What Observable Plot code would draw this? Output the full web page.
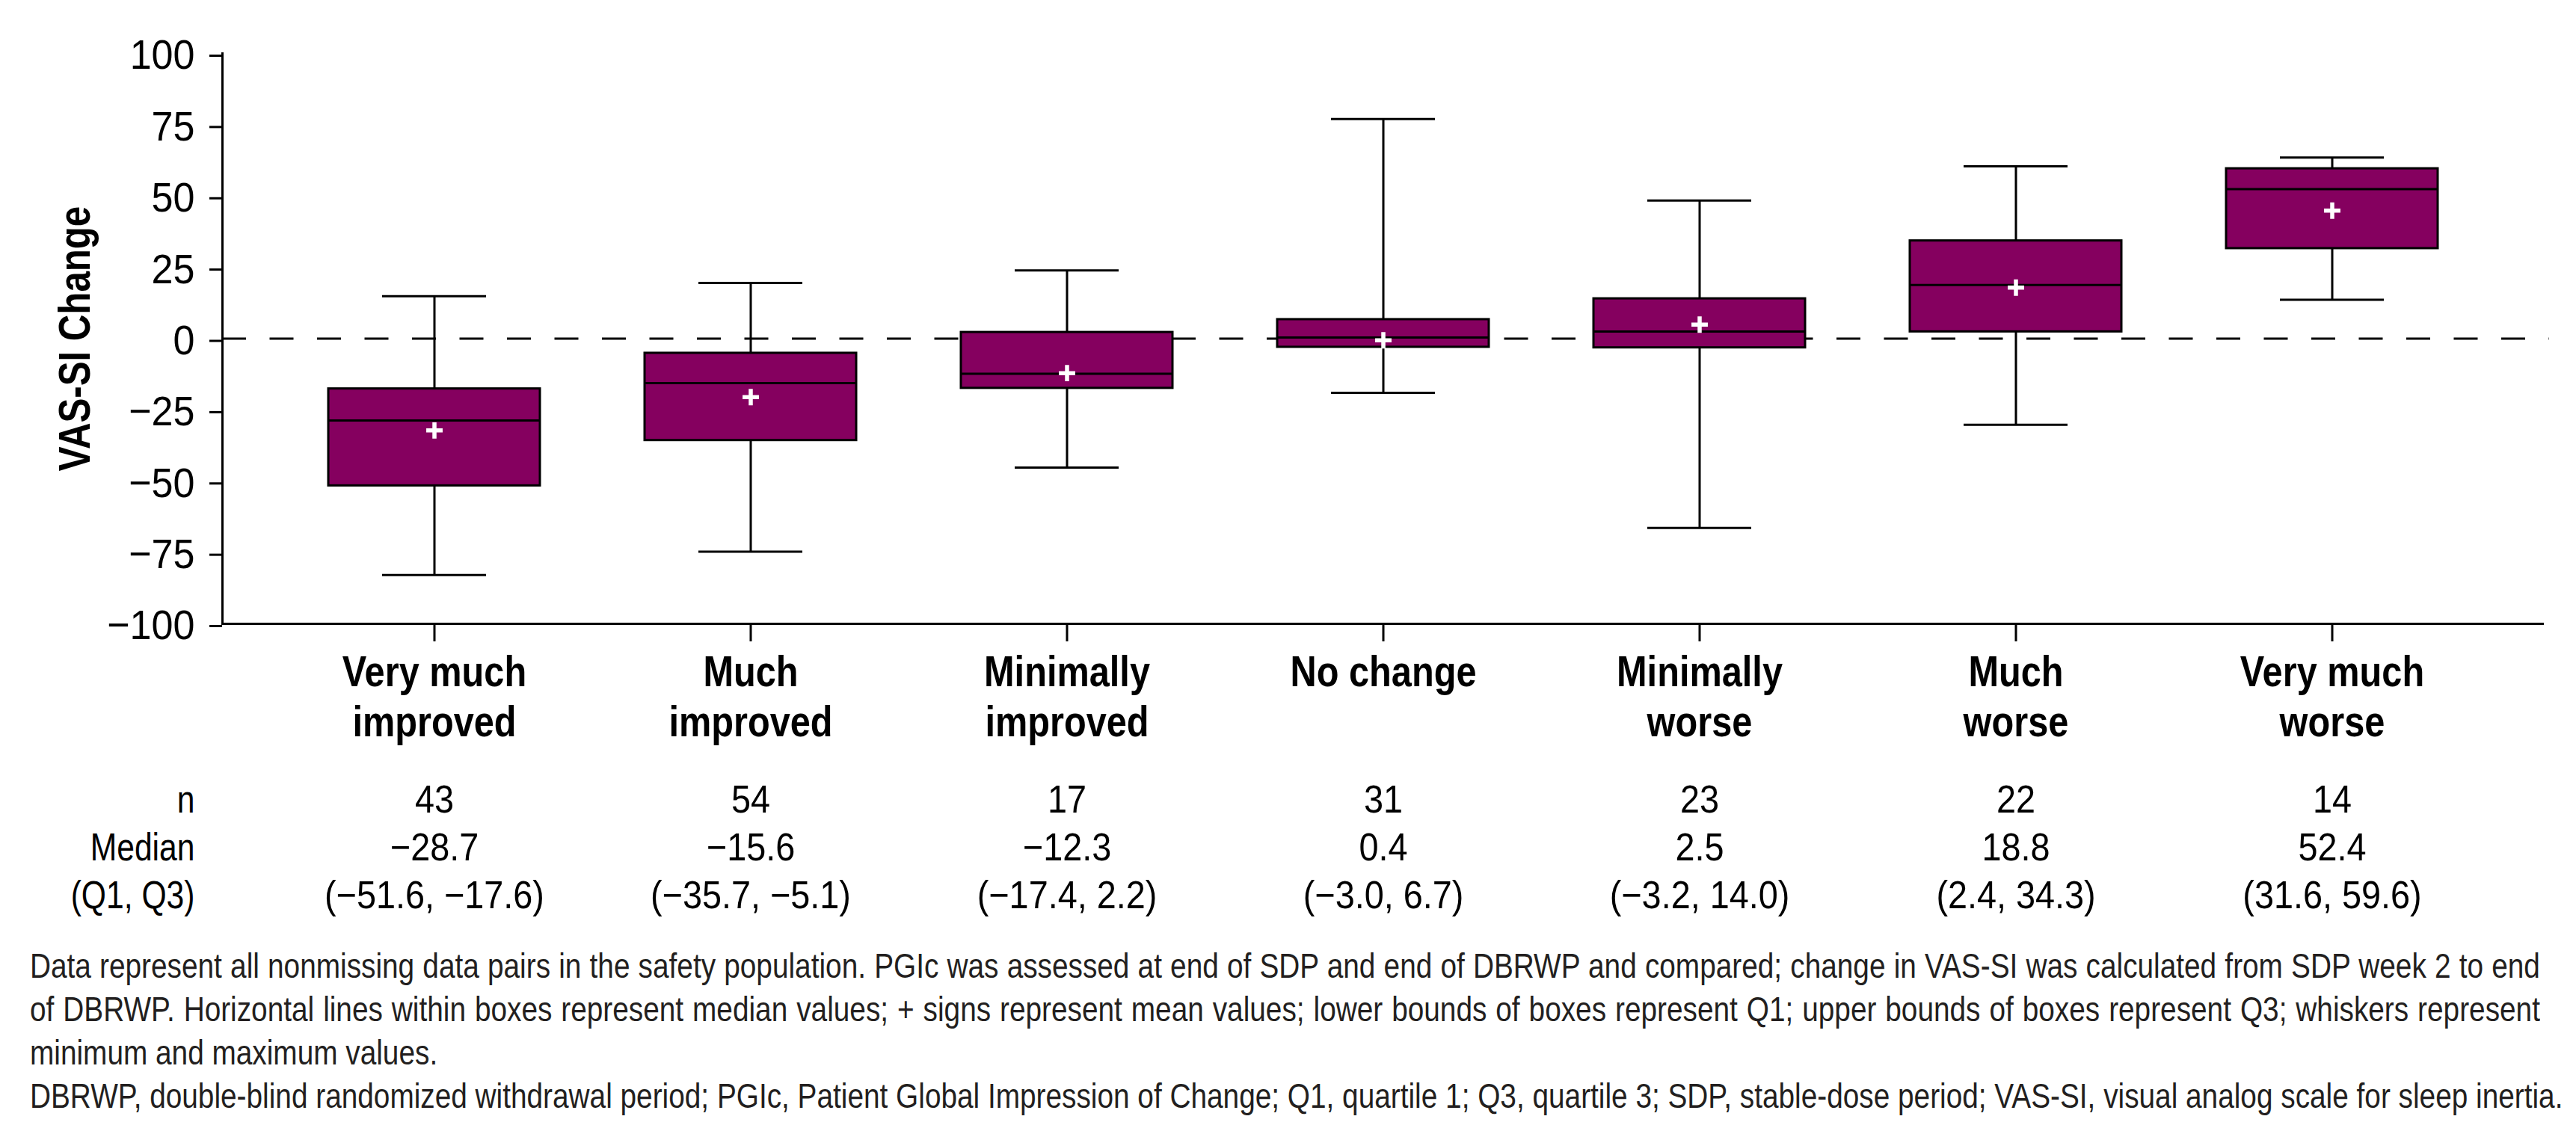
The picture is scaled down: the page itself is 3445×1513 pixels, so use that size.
<!DOCTYPE html>
<html><head><meta charset="utf-8">
<script src="https://cdn.jsdelivr.net/npm/d3@7"></script>
<script src="https://cdn.jsdelivr.net/npm/@observablehq/plot@0.6"></script>
<style>
html,body{margin:0;padding:0;background:#fff;overflow:hidden;}
#chart svg{display:block}
.fn{font-family:"Liberation Sans Narrow","Arial Narrow","Liberation Sans",Arial,sans-serif;font-size:47px;line-height:58px;color:#231f20;margin:13px 0 0 40px;}
.fn div{white-space:nowrap;transform:scaleX(0.825);transform-origin:0 0;width:4069px;}
.fn div.j{text-align:justify;text-align-last:justify;}
</style></head><body>
<div id="chart"></div>
<div class="fn">
<div class="j">Data represent all nonmissing data pairs in the safety population. PGIc was assessed at end of SDP and end of DBRWP and compared; change in VAS-SI was calculated from SDP week 2 to end</div>
<div class="j">of DBRWP. Horizontal lines within boxes represent median values; + signs represent mean values; lower bounds of boxes represent Q1; upper bounds of boxes represent Q3; whiskers represent</div>
<div>minimum and maximum values.</div>
<div>DBRWP, double-blind randomized withdrawal period; PGIc, Patient Global Impression of Change; Q1, quartile 1; Q3, quartile 3; SDP, stable-dose period; VAS-SI, visual analog scale for sleep inertia.</div>
</div>
<script>
const categories = ["Very much improved", "Much improved", "Minimally improved", "No change", "Minimally worse", "Much worse", "Very much worse"];
const categoryLabels = ["Very much\nimproved", "Much\nimproved", "Minimally\nimproved", "No change", "Minimally\nworse", "Much\nworse", "Very much\nworse"];
const nValues = [43, 54, 17, 31, 23, 22, 14];
const medians = [-28.7, -15.6, -12.3, 0.4, 2.5, 18.8, 52.4];
const q1Values = [-51.6, -35.7, -17.4, -3.0, -3.2, 2.4, 31.6];
const q3Values = [-17.6, -5.1, 2.2, 6.7, 14.0, 34.3, 59.6];
const minValues = [-82.9, -74.7, -45.2, -19.0, -66.4, -30.2, 13.6];
const maxValues = [14.9, 19.5, 23.9, 77.0, 48.4, 60.4, 63.5];
const meanValues = [-32.2, -20.5, -12.1, -0.6, 4.9, 17.9, 44.9];
const yTicks = [-100, -75, -50, -25, 0, 25, 50, 75, 100];
const rowLabels = ["n", "Median", "(Q1, Q3)"];
const yLabel = "VAS-SI Change";

const FONT = '"Liberation Sans Narrow", "Arial Narrow", "Liberation Sans", Arial, sans-serif';
const BOX = "#85005f";
const minus = "\u2212";
const fmt1 = v => (v < 0 ? minus : "") + Math.abs(v).toFixed(1);

const data = categories.map((c, i) => ({
  cat: c, label: categoryLabels[i], n: nValues[i], median: medians[i],
  q1: q1Values[i], q3: q3Values[i], min: minValues[i], max: maxValues[i], mean: meanValues[i]
}));

const chart = Plot.plot({
  width: 3445, height: 1250,
  marginTop: 71, marginBottom: 416, marginLeft: 297, marginRight: 43,
  style: {fontFamily: FONT, background: "white", color: "black", overflow: "visible"},
  x: {type: "band", domain: categories, padding: 0.332, label: null},
  y: {domain: [-100, 100], label: null},
  marks: [
    Plot.ruleY([0], {strokeDasharray: "32,31.5", strokeWidth: 3, insetRight: -7}),
    Plot.ruleX(data, {x: "cat", y1: "min", y2: "max", strokeWidth: 3}),
    Plot.tickY(data, {x: "cat", y: "min", insetLeft: 72, insetRight: 72, strokeWidth: 3}),
    Plot.tickY(data, {x: "cat", y: "max", insetLeft: 72, insetRight: 72, strokeWidth: 3}),
    Plot.barY(data, {x: "cat", y1: "q1", y2: "q3", fill: BOX, stroke: "black", strokeWidth: 3}),
    Plot.tickY(data, {x: "cat", y: "median", strokeWidth: 3}),
    Plot.dot(data, {x: "cat", y: "mean", symbol: "plus", r: 7.1, stroke: "white", strokeWidth: 5.5}),
    Plot.frame({anchor: "left", strokeWidth: 3}),
    Plot.ruleY([-100], {strokeWidth: 3}),
    Plot.axisY({ticks: yTicks, tickSize: 17, tickPadding: 20, fontSize: 56, strokeWidth: 3, label: null, dy: 3,
      tickFormat: d => d < 0 ? minus + (-d) : String(d)}),
    Plot.axisX({tickSize: 24, strokeWidth: 3, label: null, tickFormat: () => ""}),
    Plot.text(data, {x: "cat", text: "label", frameAnchor: "bottom", lineAnchor: "top", dy: 37,
      fontSize: 58, fontWeight: "bold", lineHeight: 1.14}),
    Plot.text(data, {x: "cat", text: d => String(d.n), frameAnchor: "bottom", lineAnchor: "bottom", dy: 252, fontSize: 52}),
    Plot.text(data, {x: "cat", text: d => fmt1(d.median), frameAnchor: "bottom", lineAnchor: "bottom", dy: 316, fontSize: 52}),
    Plot.text(data, {x: "cat", text: d => `(${fmt1(d.q1)}, ${fmt1(d.q3)})`, frameAnchor: "bottom", lineAnchor: "bottom", dy: 380, fontSize: 52}),
    Plot.text([rowLabels[0]], {frameAnchor: "bottom-left", textAnchor: "end", lineAnchor: "bottom", dx: -37, dy: 252, fontSize: 52}),
    Plot.text([rowLabels[1]], {frameAnchor: "bottom-left", textAnchor: "end", lineAnchor: "bottom", dx: -37, dy: 316, fontSize: 52}),
    Plot.text([rowLabels[2]], {frameAnchor: "bottom-left", textAnchor: "end", lineAnchor: "bottom", dx: -37, dy: 380, fontSize: 52}),
    Plot.text([yLabel], {frameAnchor: "left", rotate: -90, textAnchor: "middle", lineAnchor: "bottom", dx: -178, fontSize: 60, fontWeight: "bold"})
  ]
});

// Condense glyphs horizontally (no narrow font installed): letters ~0.82–0.84, digits ~0.9
chart.querySelectorAll("text").forEach(t => {
  const s = t.textContent;
  const fw = t.closest("[font-weight]");
  const bold = fw && fw.getAttribute("font-weight") === "bold";
  const tr = t.getAttribute("transform") || "";
  let k;
  if (bold) k = tr.includes("rotate") ? 0.82 : 0.84;
  else if (/[A-Za-z]/.test(s)) k = 0.82;
  else k = t.closest("[aria-label^='y-axis']") ? 0.93 : 0.9;
  t.setAttribute("transform", (tr + ` scale(${k},1)`).trim());
});
document.getElementById("chart").appendChild(chart);
</script>
</body></html>
